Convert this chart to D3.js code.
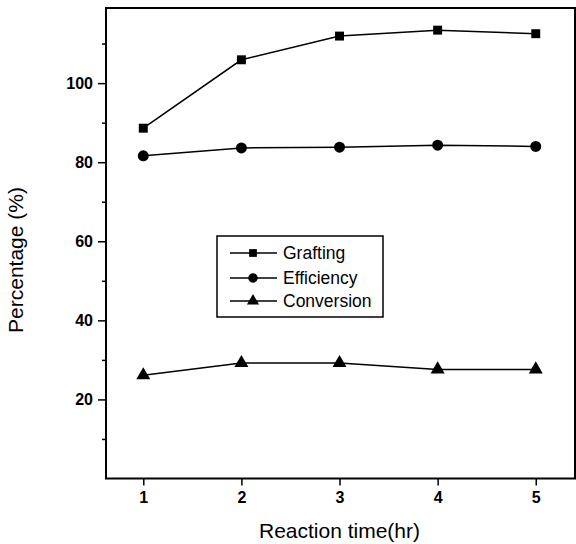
<!DOCTYPE html>
<html>
<head>
<meta charset="utf-8">
<script src="https://cdn.jsdelivr.net/npm/d3@7"></script>
<style>
  html, body { margin: 0; padding: 0; background: #fff; }
  svg { display: block; }
  text { font-family: "Liberation Sans", Arial, Helvetica, sans-serif; fill: #000; }
</style>
</head>
<body>
<svg id="chart" width="576" height="544"></svg>
<script>
const times = [1, 2, 3, 4, 5];
const grafting = [88.6, 105.9, 111.9, 113.4, 112.5];
const efficiency = [81.6, 83.6, 83.8, 84.3, 84.0];
const conversion = [26.1, 29.2, 29.2, 27.6, 27.6];
const seriesNames = ["Grafting", "Efficiency", "Conversion"];
const yMajorTicks = [20, 40, 60, 80, 100];
const yMinorTicks = [10, 30, 50, 70, 90, 110];
const xTicks = [1, 2, 3, 4, 5];

const svg = d3.select("#chart");
const pLeft = 106, pRight = 575, pTop = 8, pBottom = 478.5;

const x = d3.scaleLinear().domain([0.62, 5.4]).range([pLeft, pRight]);
const y = d3.scaleLinear().domain([0, 119]).range([pBottom, pTop]);

// frame
svg.append("rect")
  .attr("x", pLeft).attr("y", pTop)
  .attr("width", pRight - pLeft).attr("height", pBottom - pTop)
  .attr("fill", "none").attr("stroke", "#000").attr("stroke-width", 2);

// x axis
const xAxis = svg.append("g").attr("transform", `translate(0,${pBottom})`)
  .call(d3.axisBottom(x).tickValues(xTicks).tickFormat(d3.format("d")).tickSize(7).tickPadding(6));
xAxis.select(".domain").remove();
xAxis.selectAll("line").attr("stroke-width", 1.5);
xAxis.selectAll("text").style("font-size", "16px").style("font-weight", "bold")
  .style("font-family", "Liberation Sans, Arial, sans-serif");

// y axis major
const yAxis = svg.append("g").attr("transform", `translate(${pLeft},0)`)
  .call(d3.axisLeft(y).tickValues(yMajorTicks).tickFormat(d3.format("d")).tickSize(8).tickPadding(5));
yAxis.select(".domain").remove();
yAxis.selectAll("line").attr("stroke-width", 1.5);
yAxis.selectAll("text").style("font-size", "16px").style("font-weight", "bold")
  .style("font-family", "Liberation Sans, Arial, sans-serif");

// y axis minor
const yMinor = svg.append("g").attr("transform", `translate(${pLeft},0)`)
  .call(d3.axisLeft(y).tickValues(yMinorTicks).tickFormat("").tickSize(4));
yMinor.select(".domain").remove();
yMinor.selectAll("line").attr("stroke-width", 1.5);

// axis titles
svg.append("text")
  .attr("x", (x(1) + x(5)) / 2).attr("y", 538)
  .attr("text-anchor", "middle").style("font-size", "21px")
  .text("Reaction time(hr)");
svg.append("text")
  .attr("transform", "translate(23,260) rotate(-90)")
  .attr("text-anchor", "middle").style("font-size", "21px")
  .text("Percentage (%)");

const data = [grafting, efficiency, conversion];
const line = d3.line().x((d, i) => x(times[i])).y(d => y(d));

data.forEach((vals, si) => {
  svg.append("path").datum(vals)
    .attr("d", line).attr("fill", "none")
    .attr("stroke", "#000").attr("stroke-width", 1.5);
});

const symbols = [d3.symbolSquare, d3.symbolCircle, d3.symbolTriangle];
const sizes = [80, 95, 85];

data.forEach((vals, si) => {
  svg.append("g").selectAll("path").data(vals).join("path")
    .attr("transform", (d, i) => `translate(${x(times[i])},${y(d)})`)
    .attr("d", d3.symbol().type(symbols[si]).size(sizes[si]))
    .attr("fill", "#000");
});

// legend
const lg = svg.append("g");
lg.append("rect").attr("x", 217).attr("y", 236).attr("width", 166).attr("height", 81)
  .attr("fill", "#fff").attr("stroke", "#000").attr("stroke-width", 1.5);
const legendY = [253, 278, 301];
seriesNames.forEach((name, si) => {
  lg.append("line").attr("x1", 230).attr("x2", 277)
    .attr("y1", legendY[si]).attr("y2", legendY[si])
    .attr("stroke", "#000").attr("stroke-width", 1.5);
  lg.append("path").attr("transform", `translate(253,${legendY[si]})`)
    .attr("d", d3.symbol().type(symbols[si]).size(sizes[si] * 0.75))
    .attr("fill", "#000");
  lg.append("text").attr("x", 283).attr("y", legendY[si]).attr("dy", "0.36em")
    .style("font-size", "17.5px").text(name);
});
</script>
</body>
</html>
